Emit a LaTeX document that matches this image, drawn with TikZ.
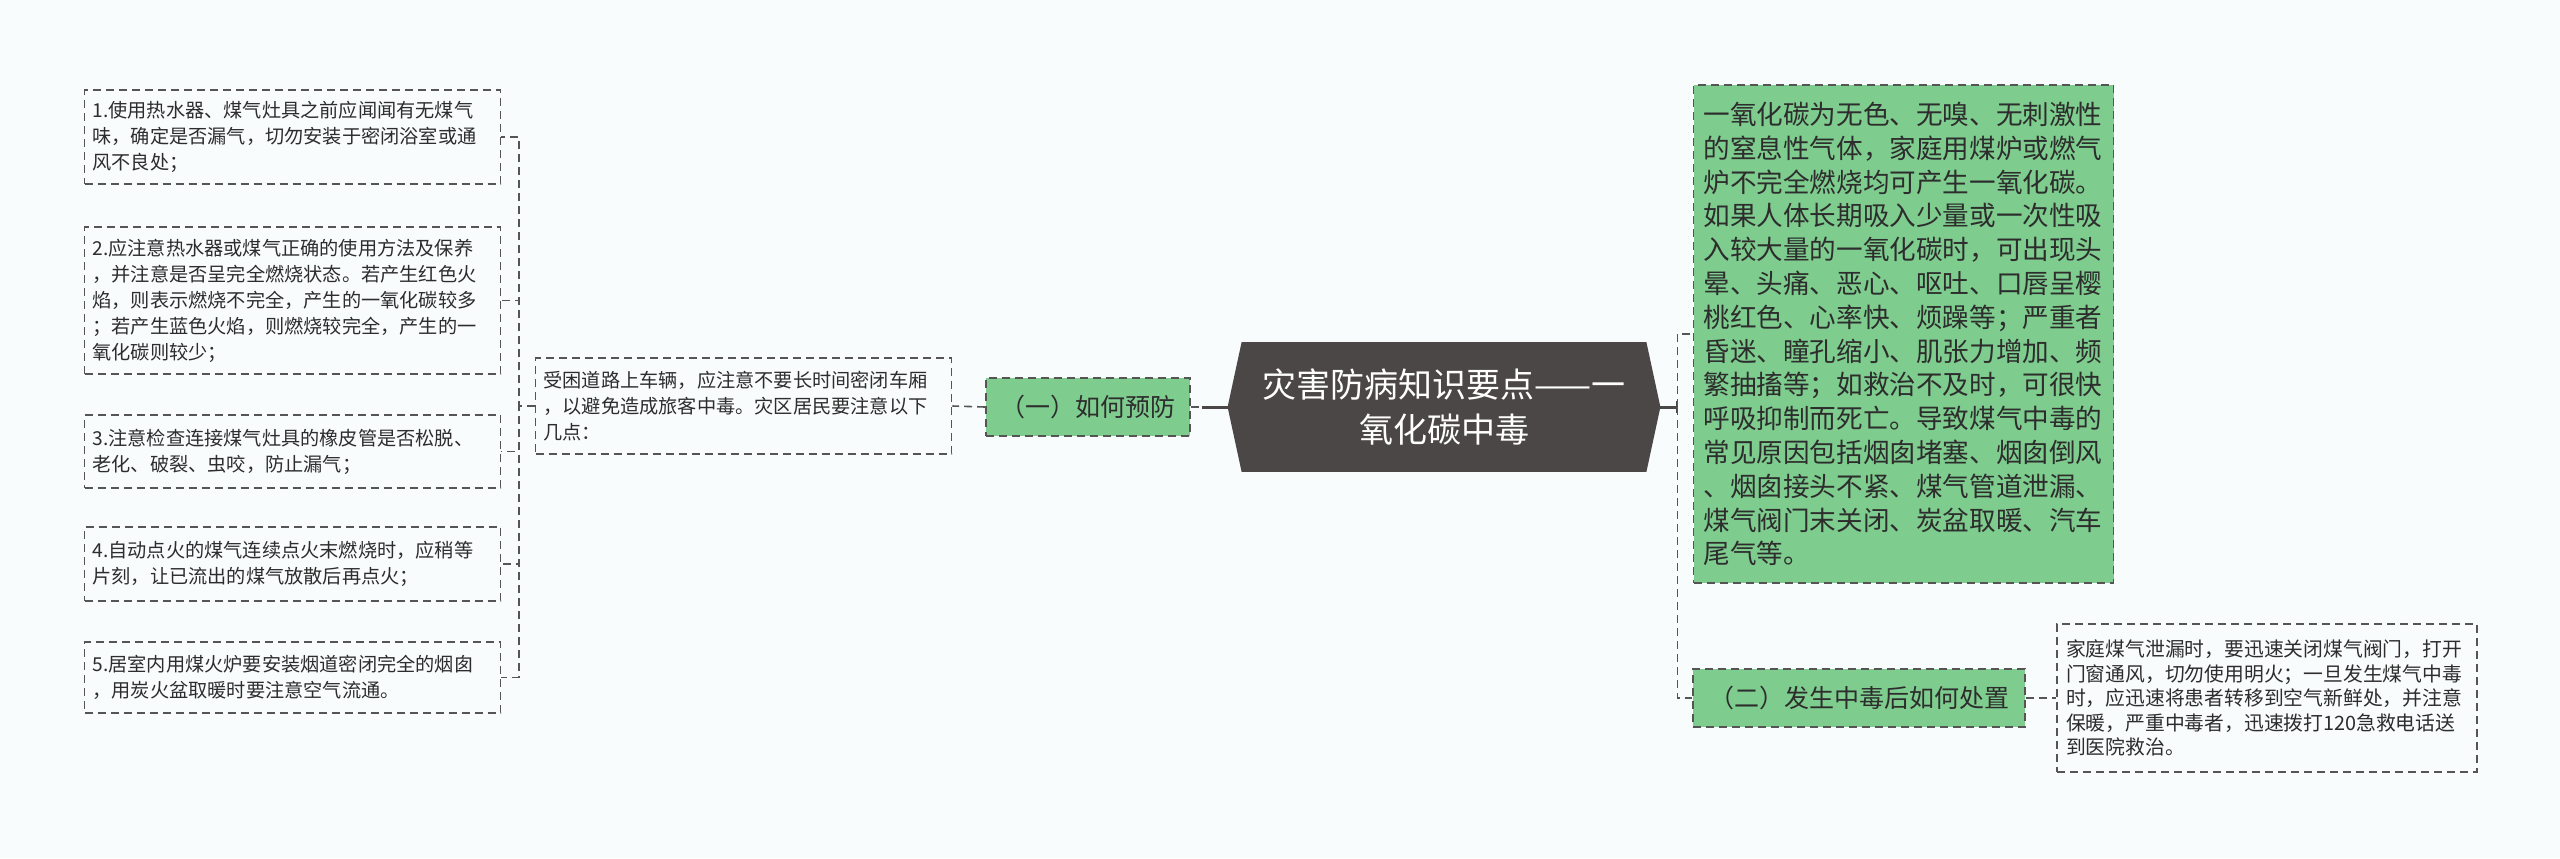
\documentclass[tikz,border=0pt]{standalone}
\usepackage{fontspec}
\setmainfont{Noto Sans CJK SC}
\usetikzlibrary{backgrounds}
\definecolor{canvas}{RGB}{248,252,252}
\definecolor{leafgreen}{RGB}{126,204,142}
\definecolor{hubgray}{RGB}{76,71,71}
\definecolor{linegray}{RGB}{85,85,85}
\definecolor{ink}{RGB}{45,45,45}

\begin{document}
\begin{tikzpicture}[x=0.5pt,y=-0.5pt,
	link/.style={draw=linegray,line width=0.8pt,dash pattern=on 4pt off 2.5pt},
	box/.style={link,align=left,text=ink,inner xsep=4pt,inner ysep=0pt,text width=200pt,
	font=\fontsize{9.6pt}{13pt}\selectfont},
	topic/.style={link,fill=leafgreen,text=ink,inner sep=0pt,minimum height=29pt,
	font=\fontsize{12.5pt}{15pt}\selectfont},
	hub/.style={text=white,align=center,inner sep=0pt,minimum width=202pt,minimum height=64.5pt,
	font=\fontsize{17pt}{22.5pt}\selectfont},
	stem/.style={hubgray,line width=1.5pt}]
\begin{scope}[on background layer]
\fill[canvas] (0,0) rectangle (2560,858);
\end{scope}
\useasboundingbox (0,0) rectangle (2560,858);

\node[box,minimum height=47pt] (p1) at (292.5,137) {1.使用热水器、煤气灶具之前应闻闻有无煤气\\味，确定是否漏气，切勿安装于密闭浴室或通\\风不良处；};
\node[box,minimum height=73.5pt] (p2) at (292.5,300.5) {2.应注意热水器或煤气正确的使用方法及保养\\，并注意是否呈完全燃烧状态。若产生红色火\\焰，则表示燃烧不完全，产生的一氧化碳较多\\；若产生蓝色火焰，则燃烧较完全，产生的一\\氧化碳则较少；};
\node[box,minimum height=36.5pt] (p3) at (292.5,451.5) {3.注意检查连接煤气灶具的橡皮管是否松脱、\\老化、破裂、虫咬，防止漏气；};
\node[box,minimum height=37pt] (p4) at (292.5,564) {4.自动点火的煤气连续点火末燃烧时，应稍等\\片刻，让已流出的煤气放散后再点火；};
\node[box,minimum height=35.5pt] (p5) at (292.5,677.5) {5.居室内用煤火炉要安装烟道密闭完全的烟囱\\，用炭火盆取暖时要注意空气流通。};
\node[box,minimum height=48pt] (intro) at (743.5,406) {受困道路上车辆，应注意不要长时间密闭车厢\\，以避免造成旅客中毒。灾区居民要注意以下\\几点：};
\node[topic,minimum width=102pt] (pre) at (1088,407) {（一）如何预防};
\node[hub] (hub) at (1444,407) {灾害防病知识要点——一\\氧化碳中毒};
\begin{scope}[on background layer]
\fill[hubgray] ([xshift=-7pt]hub.west) -- (hub.north west) -- (hub.north east)
  -- ([xshift=7pt]hub.east) -- (hub.south east) -- (hub.south west) -- cycle;
\end{scope}
\node[topic,align=left,text width=200pt,inner xsep=5pt,minimum height=249pt,
  font=\fontsize{13.3pt}{16.9pt}\selectfont] (info) at (1903.5,334) {一氧化碳为无色、无嗅、无刺激性\\的窒息性气体，家庭用煤炉或燃气\\炉不完全燃烧均可产生一氧化碳。\\如果人体长期吸入少量或一次性吸\\入较大量的一氧化碳时，可出现头\\晕、头痛、恶心、呕吐、口唇呈樱\\桃红色、心率快、烦躁等；严重者\\昏迷、瞳孔缩小、肌张力增加、频\\繁抽搐等；如救治不及时，可很快\\呼吸抑制而死亡。导致煤气中毒的\\常见原因包括烟囱堵塞、烟囱倒风\\、烟囱接头不紧、煤气管道泄漏、\\煤气阀门末关闭、炭盆取暖、汽车\\尾气等。};
\node[topic,minimum width=166pt] (act) at (1859,698) {（二）发生中毒后如何处置};
\node[box,text width=201pt,inner xsep=4.5pt,minimum height=74pt,
  font=\fontsize{9.9pt}{12.3pt}\selectfont] (aid) at (2267,698) {家庭煤气泄漏时，要迅速关闭煤气阀门，打开\\门窗通风，切勿使用明火；一旦发生煤气中毒\\时，应迅速将患者转移到空气新鲜处，并注意\\保暖，严重中毒者，迅速拨打120急救电话送\\到医院救治。};

\draw[link] (intro.west) -- ++(-16,0) |- (p1.east);
\draw[link] (intro.west) -- ++(-16,0) |- (p2.east);
\draw[link] (intro.west) -- ++(-16,0) |- (p3.east);
\draw[link] (intro.west) -- ++(-16,0) |- (p4.east);
\draw[link] (intro.west) -- ++(-16,0) |- (p5.east);
\draw[link] (pre.west) -- (intro.east);
\coordinate (hubL) at ([xshift=-7pt]hub.west);
\coordinate (hubR) at ([xshift=7pt]hub.east);
\draw[link] (pre.east) -- (hubL);
\draw[stem] (hubL) -- ++(-26,0);
\draw[stem] (hubR) -- ++(17,0) coordinate (fork);
\draw[stem,line width=1pt] ([yshift=3pt]fork) -- ([yshift=-3pt]fork);
\draw[link] (fork) |- (info.west);
\draw[link] (fork) |- (act.west);
\draw[link] (act.east) -- (aid.west);
\end{tikzpicture}
\end{document}
